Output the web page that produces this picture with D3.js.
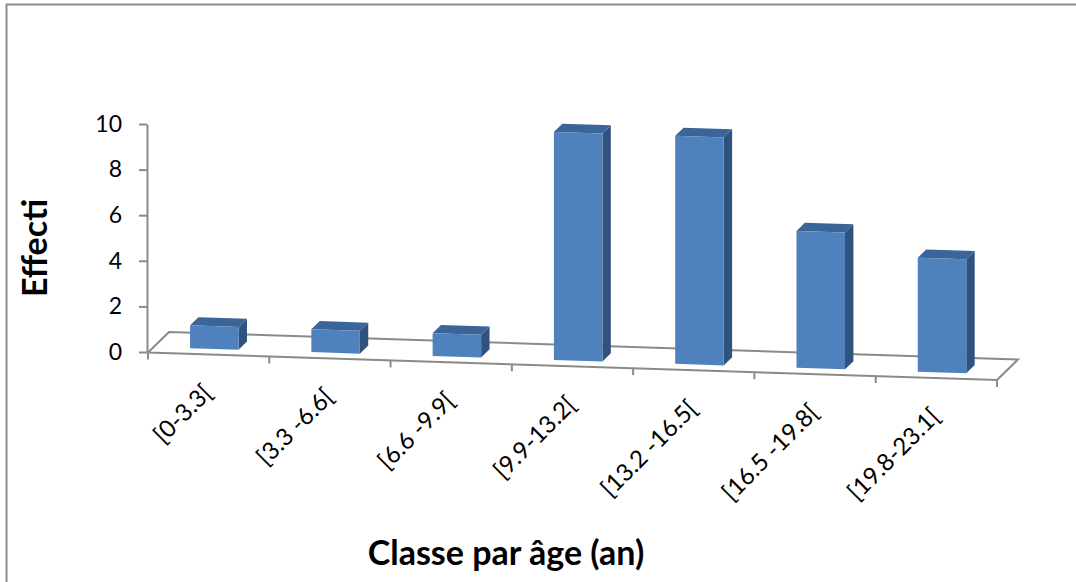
<!DOCTYPE html>
<html>
<head>
<meta charset="utf-8">
<script src="https://cdn.jsdelivr.net/npm/d3@7"></script>
<style>
  html, body { margin: 0; padding: 0; background: #fff; }
  svg { display: block; }
</style>
</head>
<body>
<div class="visHolder"></div>
<script>
const categories = ['[0-3.3[', '[3.3 -6.6[', '[6.6 -9.9[', '[9.9-13.2[', '[13.2 -16.5[', '[16.5 -19.8[', '[19.8-23.1['];
const effectifs = [1, 1, 1, 10, 10, 6, 5];
const yTicks = [0, 2, 4, 6, 8, 10];

const w = 1076, h = 582;
const font = 'Lato, "Open Sans", sans-serif';

const svg = d3.select('.visHolder')
  .append('svg')
  .attr('width', w)
  .attr('height', h);

// outer frame (only top and left are inside the picture)
svg.append('rect')
  .attr('x', 6.5).attr('y', 4.5)
  .attr('width', w + 20).attr('height', h + 20)
  .attr('fill', 'none')
  .attr('stroke', '#8c8c8c')
  .attr('stroke-width', 2);

// fake 3d: category along the front edge, depth pushes up-right
const uScale = d3.scaleLinear().domain([0, categories.length]).range([148, 997]);
const floorY = d3.scaleLinear().domain([0, categories.length]).range([352.5, 380]);
const yScale = d3.scaleLinear().domain([0, 10]).range([352, 124]);
const depth = {dx: 21, dy: -20.5};

const P = (u, d, v) => [
  uScale(u) + d * depth.dx,
  floorY(u) + d * depth.dy - (yScale(0) - yScale(v))
];

const grey = '#8a8a8a';

// floor
const floor = svg.append('g')
  .attr('stroke', grey)
  .attr('stroke-width', 2)
  .attr('fill', 'none');

floor.append('path')
  .attr('d', d3.line()([P(0, 0, 0), P(7, 0, 0), P(7, 1, 0), P(0, 1, 0), P(0, 0, 0)]));

floor.selectAll('.cat-tick')
  .data(d3.range(categories.length + 1))
  .enter()
  .append('line')
  .attr('class', 'cat-tick')
  .attr('x1', d => P(d, 0, 0)[0])
  .attr('x2', d => P(d, 0, 0)[0])
  .attr('y1', d => P(d, 0, 0)[1])
  .attr('y2', d => P(d, 0, 0)[1] + 7);

// y axis
const yAxis = d3.axisLeft(yScale)
  .tickValues(yTicks)
  .tickSize(8)
  .tickSizeOuter(0)
  .tickPadding(17);

const yG = svg.append('g')
  .attr('id', 'y-axis')
  .attr('transform', 'translate(147, 0)')
  .call(yAxis);

yG.select('.domain').attr('stroke', grey).attr('stroke-width', 2);
yG.selectAll('.tick line').attr('stroke', grey).attr('stroke-width', 2);
yG.selectAll('.tick text')
  .attr('fill', '#000')
  .style('font-family', font)
  .style('font-size', '23px');

// bars
const d0 = 0.27, d1 = 0.67, half = 0.2;
const bars = svg.selectAll('.bar')
  .data(effectifs)
  .enter()
  .append('g')
  .attr('class', 'bar');

const face = pts => d3.line()(pts) + 'Z';

bars.append('path')
  .attr('fill', '#30527f')
  .attr('d', (v, i) => {
    const c = i + 0.5;
    return face([P(c + half, d0, 0), P(c + half, d1, 0), P(c + half, d1, v), P(c + half, d0, v)]);
  });

bars.append('path')
  .attr('fill', '#3b6599')
  .attr('d', (v, i) => {
    const c = i + 0.5;
    return face([P(c - half, d0, v), P(c + half, d0, v), P(c + half, d1, v), P(c - half, d1, v)]);
  });

bars.append('path')
  .attr('fill', '#4f81bd')
  .attr('d', (v, i) => {
    const c = i + 0.5;
    return face([P(c - half, d0, 0), P(c + half, d0, 0), P(c + half, d0, v), P(c - half, d0, v)]);
  });

// category labels
svg.selectAll('.cat-label')
  .data(categories)
  .enter()
  .append('text')
  .attr('class', 'cat-label')
  .attr('transform', (d, i) => {
    const [x, y] = P(i + 0.5, 0, 0);
    return `translate(${x + 5}, ${y + 40}) rotate(-45)`;
  })
  .attr('text-anchor', 'end')
  .style('font-family', font)
  .style('font-size', '24px')
  .text(d => d);

// axis titles
svg.append('text')
  .attr('transform', 'translate(47, 248) rotate(-90)')
  .attr('text-anchor', 'middle')
  .style('font-family', font)
  .style('font-weight', 'bold')
  .style('font-size', '34px')
  .text('Effecti');

svg.append('text')
  .attr('x', 506)
  .attr('y', 565)
  .attr('text-anchor', 'middle')
  .style('font-family', font)
  .style('font-weight', 'bold')
  .style('font-size', '34px')
  .text('Classe par âge (an)');
</script>
</body>
</html>
